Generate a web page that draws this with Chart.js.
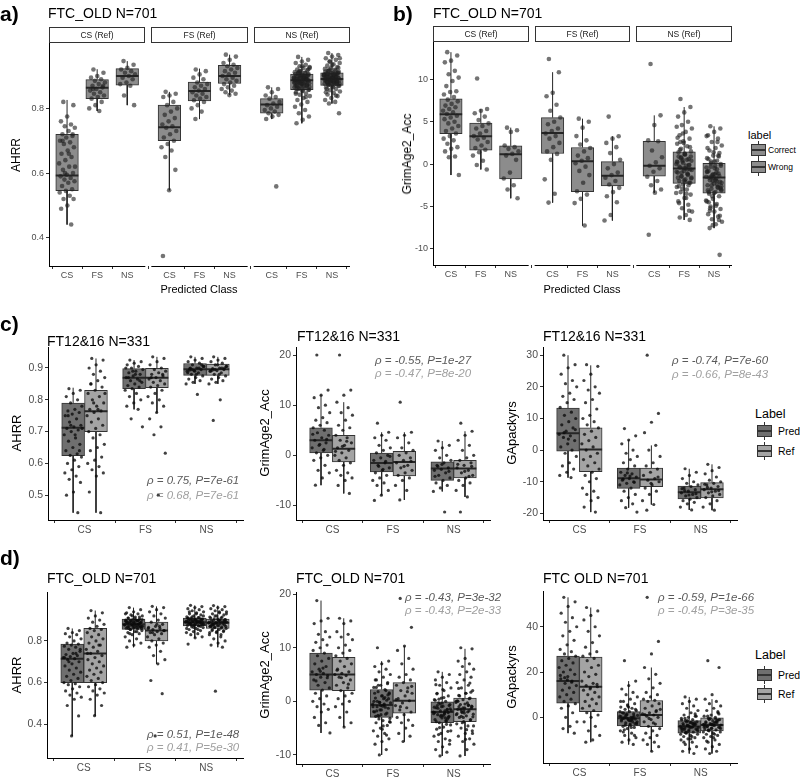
<!DOCTYPE html>
<html>
<head>
<meta charset="utf-8">
<script src="https://cdn.jsdelivr.net/npm/chart.js@4.4.0/dist/chart.umd.min.js"></script>
<style>
  body { margin: 0; width: 800px; height: 778px; position: relative; overflow: hidden; background: #fff;
         font-family: "Liberation Sans", Arial, sans-serif; color: #000; }
  canvas { position: absolute; }
  .t { position: absolute; white-space: nowrap; line-height: 1; }
  .key { position: absolute; width: 15px; height: 12px; }
  .key .w { position: absolute; left: 7px; top: -3px; width: 1px; height: 18px; background: #333; }
  .key .b { position: absolute; left: 0; top: 0; width: 13px; height: 10px; border: 1px solid #333; }
  .key .m { position: absolute; left: 0; top: 5px; width: 15px; height: 2px; background: #333; }
</style>
</head>
<body>
<script>
// ---------------- data ----------------
const classes = ['CS', 'FS', 'NS'];
const refStrips = ['CS (Ref)', 'FS (Ref)', 'NS (Ref)'];

// a) AHRR, FTC_OLD: facet = reference class, box = predicted class. [min, q1, median, q3, max]
const aBoxes = [
  [0.441, 0.546, 0.593, 0.720, 0.826], [0.792, 0.830, 0.864, 0.889, 0.921], [0.810, 0.872, 0.900, 0.923, 0.946],
  [0.547, 0.700, 0.742, 0.810, 0.851], [0.767, 0.823, 0.854, 0.881, 0.923], [0.841, 0.877, 0.900, 0.933, 0.966],
  [0.767, 0.785, 0.812, 0.830, 0.865], [0.754, 0.858, 0.887, 0.906, 0.959], [0.815, 0.871, 0.891, 0.910, 0.971]
];
const aPoints = [
  [0.82,0.81,0.775,0.76,0.75,0.745,0.74,0.73,0.72,0.715,0.71,0.70,0.695,0.69,0.68,0.67,0.66,0.65,0.64,0.63,0.62,0.61,0.60,0.595,0.59,0.585,0.58,0.575,0.57,0.56,0.55,0.545,0.54,0.53,0.52,0.52,0.50,0.49,0.441,0.60,0.62,0.66,0.70,0.72],
  [0.92,0.91,0.90,0.895,0.89,0.885,0.88,0.875,0.87,0.865,0.86,0.855,0.85,0.845,0.84,0.835,0.83,0.82,0.81,0.80,0.792,0.86,0.87],
  [0.946,0.935,0.925,0.92,0.915,0.91,0.905,0.90,0.895,0.89,0.88,0.875,0.87,0.84,0.81],
  [0.851,0.845,0.84,0.835,0.82,0.81,0.80,0.79,0.78,0.77,0.76,0.75,0.745,0.74,0.73,0.72,0.71,0.70,0.69,0.68,0.67,0.65,0.61,0.547,0.344],
  [0.92,0.915,0.905,0.895,0.89,0.88,0.875,0.87,0.865,0.86,0.855,0.85,0.845,0.84,0.835,0.83,0.825,0.82,0.81,0.80,0.79,0.767],
  [0.966,0.96,0.95,0.94,0.935,0.93,0.925,0.92,0.915,0.91,0.905,0.90,0.895,0.89,0.885,0.88,0.875,0.87,0.865,0.86,0.855,0.85,0.845,0.841],
  [0.865,0.86,0.85,0.84,0.835,0.83,0.82,0.815,0.81,0.805,0.80,0.795,0.79,0.785,0.78,0.775,0.767,0.559],
  [0.959,0.95,0.945,0.94,0.935,0.93,0.928,0.925,0.92,0.918,0.915,0.912,0.91,0.908,0.905,0.903,0.9,0.898,0.896,0.894,0.892,0.89,0.888,0.886,0.884,0.882,0.88,0.878,0.875,0.872,0.87,0.868,0.865,0.862,0.86,0.857,0.854,0.85,0.846,0.842,0.838,0.832,0.826,0.82,0.812,0.805,0.795,0.785,0.775,0.765,0.754,0.89,0.9,0.88,0.895,0.885,0.905,0.875,0.87,0.892,
   0.862,0.866,0.869,0.871,0.874,0.877,0.879,0.881,0.883,0.885,0.887,0.889,0.891,0.893,0.895,0.897,0.899,0.901,0.903,0.906,0.909,0.912,0.858,0.855,0.86,0.87,0.88,0.89,0.9,0.91,0.92,0.93,0.845,0.835,0.915,0.925],
  [0.971,0.965,0.96,0.955,0.95,0.945,0.94,0.936,0.932,0.928,0.925,0.922,0.919,0.916,0.913,0.91,0.908,0.906,0.904,0.902,0.9,0.898,0.896,0.894,0.892,0.89,0.888,0.886,0.884,0.882,0.88,0.878,0.876,0.874,0.872,0.87,0.867,0.864,0.86,0.856,0.852,0.848,0.843,0.838,0.832,0.826,0.82,0.815,0.785,0.895,0.9,0.885,0.89,0.905,0.88,0.875,0.91,0.893,0.887,0.897,
   0.873,0.876,0.879,0.881,0.883,0.885,0.887,0.889,0.891,0.893,0.895,0.897,0.899,0.901,0.903,0.905,0.907,0.909,0.911,0.914,0.917,0.92,0.87,0.865,0.86,0.875,0.885,0.895,0.905,0.915,0.925,0.935,0.85,0.84,0.945,0.955]
];

// b) GrimAge2_Acc, FTC_OLD
const bBoxes = [
  [-1.29, 3.60, 5.87, 7.71, 13.2], [-0.63, 1.64, 3.29, 4.85, 6.50], [-4.03, -1.76, 1.17, 2.15, 4.30],
  [-4.54, 1.25, 3.68, 5.48, 10.84], [-7.24, -3.25, 0.35, 1.96, 5.36], [-6.65, -2.58, -1.37, 0.30, 3.29],
  [-3.37, -1.41, -0.20, 2.70, 5.75], [-6.58, -2.27, -0.51, 1.45, 6.73], [-7.55, -3.44, -1.57, 0.10, 4.46]
];
const bPoints = [
  [13.2,12.8,12.2,12.0,11.0,10.6,10.2,9.8,9.2,8.6,8.5,8.2,7.9,7.6,7.4,7.1,6.9,6.7,6.5,6.3,6.1,5.9,5.7,5.5,5.3,5.0,4.8,4.5,4.2,3.9,3.6,3.3,3.0,2.8,2.4,2.0,1.8,1.5,0.9,0.8,-1.29],
  [10.1,6.5,6.3,6.0,5.6,5.2,4.8,4.5,4.2,3.9,3.6,3.3,3.1,2.9,2.6,2.2,1.9,1.7,1.4,1.0,0.4,-0.1,-0.63],
  [4.3,4.0,3.8,2.2,2.0,1.8,1.5,1.2,1.0,0.5,-1.0,-1.7,-2.5,-3.0,-4.03],
  [12.4,10.84,8.4,8.0,7.0,6.3,5.5,5.0,4.7,4.2,3.9,3.6,3.3,3.0,2.5,2.0,1.5,1.2,0.5,-1.8,-3.5,-4.54],
  [5.36,5.0,4.3,3.3,2.8,2.3,1.9,1.5,1.0,0.7,0.4,0.1,-0.3,-0.8,-1.3,-2.2,-3.2,-3.6,-4.1,-4.6,-7.24],
  [5.6,3.29,3.0,2.5,2.0,1.3,0.5,0.0,-0.5,-1.0,-1.3,-1.6,-2.0,-2.4,-2.8,-3.3,-3.8,-4.5,-6.0,-6.65],
  [11.8,5.75,4.6,2.8,2.7,1.6,0.8,0.2,-0.2,-0.5,-0.9,-1.5,-2.0,-2.5,-3.0,-3.37,-8.34],
  [7.67,6.73,6.1,5.6,5.0,4.6,4.2,3.8,3.4,3.0,2.7,2.4,2.1,1.8,1.5,1.2,0.9,0.6,0.3,0.0,-0.2,-0.4,-0.6,-0.8,-1.0,-1.2,-1.4,-1.6,-1.8,-2.0,-2.2,-2.4,-2.7,-3.0,-3.3,-3.6,-4.0,-4.4,-4.8,-5.2,-5.6,-6.0,-6.3,-6.58,-0.5,0.2,-1.1,0.8,-1.7,1.1,-2.6,-0.1,0.5,-0.9,-3.5,2.6,
   -2.2,-1.9,-1.6,-1.3,-1.0,-0.7,-0.5,-0.3,-0.1,0.1,0.3,0.5,0.7,0.9,1.2,1.4,-2.5,-2.9,-3.4,-4.0,1.7,2.0,2.5,3.1,-0.6,-1.5,0.4,-2.1,-4.6,-5.5,3.6,4.4],
  [4.46,4.2,3.8,3.4,3.0,2.6,2.2,1.9,1.6,1.3,1.0,0.7,0.4,0.1,-0.2,-0.5,-0.8,-1.1,-1.3,-1.5,-1.7,-1.9,-2.1,-2.3,-2.5,-2.7,-2.9,-3.1,-3.3,-3.5,-3.8,-4.1,-4.4,-4.7,-5.0,-5.3,-5.6,-5.9,-6.2,-6.5,-6.8,-7.1,-7.55,-10.7,-1.6,-0.9,-2.4,0.3,-3.0,-1.2,-4.5,0.9,-2.0,-0.4,-1.0,-5.2,-2.8,
   -3.4,-3.1,-2.8,-2.5,-2.2,-1.9,-1.6,-1.4,-1.2,-0.9,-0.6,-0.3,0,0.3,0.6,1.0,-3.8,-4.3,-4.9,-5.5,-6.1,1.4,1.9,2.6,-1.5,-2.6,-0.2,-3.3,-6.6,-7.2,3.3,-2.0]
];

// c) FT12&16 N=331, boxes per class: Pred, Ref
const c1Boxes = [
  [0.445, 0.624, 0.712, 0.790, 0.838], [0.445, 0.700, 0.764, 0.830, 0.930],
  [0.770, 0.835, 0.869, 0.898, 0.925], [0.760, 0.838, 0.869, 0.899, 0.935],
  [0.850, 0.877, 0.896, 0.914, 0.935], [0.850, 0.877, 0.896, 0.912, 0.935]
];
const c1Points = [
  [0.835,0.83,0.82,0.81,0.80,0.79,0.78,0.77,0.765,0.76,0.755,0.75,0.74,0.73,0.72,0.715,0.71,0.705,0.70,0.69,0.68,0.67,0.66,0.65,0.64,0.63,0.625,0.62,0.61,0.60,0.59,0.58,0.57,0.56,0.55,0.54,0.51,0.50,0.445,0.72,0.71,0.69,0.75,0.64],
  [0.93,0.925,0.91,0.90,0.89,0.88,0.87,0.86,0.85,0.84,0.83,0.82,0.81,0.80,0.79,0.78,0.77,0.765,0.76,0.75,0.74,0.73,0.72,0.71,0.70,0.69,0.68,0.66,0.65,0.64,0.62,0.61,0.60,0.59,0.58,0.57,0.56,0.51,0.445,0.79,0.82,0.77,0.85],
  [0.925,0.92,0.915,0.91,0.905,0.90,0.895,0.89,0.885,0.88,0.875,0.87,0.865,0.86,0.855,0.85,0.845,0.84,0.835,0.83,0.82,0.81,0.80,0.79,0.78,0.77,0.74,0.715,0.88,0.87,0.86,0.89,0.9],
  [0.935,0.93,0.92,0.91,0.90,0.895,0.89,0.885,0.88,0.875,0.87,0.865,0.86,0.855,0.85,0.845,0.84,0.83,0.82,0.81,0.80,0.79,0.78,0.76,0.74,0.715,0.69,0.632,0.50,0.87,0.88],
  [0.935,0.93,0.925,0.92,0.915,0.91,0.905,0.90,0.898,0.895,0.892,0.89,0.885,0.88,0.875,0.87,0.865,0.86,0.855,0.85,0.817,0.90,0.91,0.89,0.885,0.9,0.895,0.905,0.88,0.893],
  [0.935,0.93,0.925,0.92,0.915,0.91,0.905,0.90,0.898,0.895,0.892,0.89,0.885,0.88,0.875,0.87,0.865,0.86,0.855,0.85,0.80,0.735,0.90,0.91,0.89,0.9,0.895,0.905,0.88,0.893]
];
const c2Boxes = [
  [-5.96, 0.46, 2.98, 5.50, 12.05], [-7.60, -1.32, 1.32, 3.97, 10.6],
  [-7.95, -3.30, -1.52, 0.46, 4.60], [-8.90, -4.10, -1.32, 0.80, 4.60],
  [-7.20, -5.00, -2.65, -1.32, 2.85], [-8.30, -4.50, -2.65, -1.00, 4.80]
];
const c2Points = [
  [20,13,12,11.5,10,9.5,8.5,7.5,7,6.5,6,5.5,5,4.5,4,3.5,3,2.5,2,1.5,1,0.5,0,-0.5,-1,-2,-3,-3.5,-4.5,-5.96,3.2,2.2,4.2,1.2],
  [20,13,12,10.6,9.5,8.5,8,7,6,5.5,5,4,3.5,3,2.5,2,1.5,1,0.5,0,-0.5,-1,-1.5,-2,-3,-3.5,-4,-4.5,-5,-6,-7.6,1.8,0.8,2.8],
  [6.4,4.6,4,3.5,3,2,1.5,1,0.5,0,-0.5,-1,-1.5,-2,-2.5,-3,-3.5,-4,-4.5,-5,-5.5,-6,-7,-7.95,-9,-1.2,-2.2,-0.2,-2.8],
  [10.6,4.6,4,3.5,2.5,1.5,1,0.5,0,-0.5,-1,-1.5,-2,-2.5,-3,-3.5,-4,-4.5,-5,-6,-7,-8.9,-1.2,-2.2],
  [2.85,2,1.5,1,0,-0.5,-1,-1.5,-2,-2.5,-2.8,-3,-3.5,-4,-4.5,-5,-5.5,-6,-6.5,-7.2,-11.3,-2.2,-3.2,-1.8,-4.2],
  [6.4,4.8,4,3,2,1,0,-0.5,-1,-1.5,-2,-2.5,-3,-3.5,-4,-4.5,-5,-5.5,-6,-7,-8.3,-11.3,-2.2,-3.2,-1.8,-4.2]
];
const c3Boxes = [
  [-8.7, -0.3, 5.3, 13.3, 30.0], [-19.6, -6.8, 0.2, 7.05, 26.8],
  [-18.2, -12.1, -8.9, -5.7, 3.2], [-17.2, -11.6, -9.3, -5.7, 1.5],
  [-18.9, -15.4, -13.3, -11.4, -5.9], [-19.0, -15.1, -12.4, -10.3, -4.5]
];
const c3Points = [
  [30,27,26,24,22,21,20,18,17,16,15,13.5,12,11,10,9,8,7,6,5,4.5,4,3,2,1,0,-1,-2,-4,-5,-6,-7,-8,-8.7,5.5,6.5,3.5],
  [27,26.5,24,22,20,19,18,16,15,13,11,10,9,8,7,6,5,4,3,2,1,0,-1,-2,-3,-4,-5,-6,-7,-8,-9,-10,-12,-13,-14,-15,-16,-18,-19.6],
  [6.8,4.5,3.2,2,0,-1,-2,-3,-4,-5,-6,-7,-7.5,-8,-8.5,-9,-9.5,-10,-10.5,-11,-12,-13,-14,-15,-16,-17,-18.2,-19.6,-8.2,-9.2,-10.2,-7.2],
  [30,11.6,8.8,5.5,1.5,0,-2,-4,-5,-6,-7,-8,-9,-9.5,-10,-11,-12,-13,-14,-16,-17.2,-19,-8.5,-10.5],
  [-5.9,-7,-8,-9,-10,-10.5,-11,-11.5,-12,-12.5,-13,-13.5,-14,-14.5,-15,-15.5,-16,-16.5,-17,-18,-18.9,-12.8,-13.8,-14.2,-12.2],
  [-4.5,-5.5,-6.5,-7.5,-8.5,-9.5,-10,-10.5,-11,-11.5,-12,-12.5,-13,-13.5,-14,-14.5,-15,-16,-17,-18,-19,-11.8,-12.8,-13.2,-10.8]
];

// d) FTC_OLD N=701, boxes per class: Pred, Ref
const d1Boxes = [
  [0.344, 0.600, 0.715, 0.785, 0.860], [0.441, 0.600, 0.740, 0.860, 0.946],
  [0.770, 0.855, 0.880, 0.905, 0.960], [0.690, 0.800, 0.850, 0.890, 0.966],
  [0.815, 0.872, 0.890, 0.910, 0.971], [0.770, 0.860, 0.887, 0.905, 0.970]
];
const d1Points = [
  [0.86,0.85,0.84,0.835,0.83,0.82,0.81,0.80,0.79,0.785,0.78,0.775,0.77,0.76,0.75,0.74,0.735,0.73,0.725,0.72,0.715,0.71,0.70,0.69,0.68,0.67,0.66,0.65,0.64,0.63,0.62,0.61,0.60,0.595,0.59,0.58,0.57,0.56,0.55,0.54,0.53,0.52,0.49,0.44,0.344,0.72,0.74,0.7,0.76],
  [0.946,0.935,0.92,0.91,0.90,0.89,0.88,0.87,0.86,0.855,0.85,0.84,0.83,0.82,0.81,0.80,0.79,0.78,0.77,0.76,0.75,0.74,0.73,0.72,0.71,0.70,0.69,0.68,0.67,0.66,0.65,0.64,0.63,0.62,0.61,0.60,0.59,0.58,0.57,0.56,0.55,0.54,0.52,0.49,0.441,0.74,0.78],
  [0.96,0.95,0.94,0.935,0.93,0.925,0.92,0.915,0.91,0.905,0.902,0.9,0.897,0.894,0.891,0.888,0.885,0.882,0.879,0.876,0.873,0.87,0.867,0.864,0.861,0.858,0.855,0.85,0.845,0.84,0.835,0.83,0.82,0.81,0.80,0.79,0.78,0.77,0.88,0.89,0.87,0.9,0.86,0.885,0.875,0.895,0.865,
   0.856,0.86,0.864,0.868,0.872,0.876,0.879,0.882,0.885,0.888,0.891,0.894,0.897,0.9,0.903,0.906,0.91,0.915,0.92,0.93,0.845,0.835,0.87,0.88,0.89,0.9],
  [0.966,0.96,0.95,0.94,0.93,0.92,0.91,0.90,0.89,0.88,0.87,0.865,0.86,0.855,0.85,0.845,0.84,0.835,0.83,0.82,0.81,0.80,0.79,0.78,0.77,0.75,0.73,0.71,0.69,0.61,0.547,0.344,0.86,0.87,0.84,0.85,0.88],
  [0.971,0.965,0.96,0.955,0.95,0.945,0.94,0.935,0.93,0.925,0.92,0.916,0.912,0.908,0.905,0.902,0.899,0.896,0.893,0.89,0.887,0.884,0.881,0.878,0.875,0.872,0.868,0.864,0.86,0.855,0.85,0.845,0.84,0.835,0.83,0.82,0.815,0.785,0.89,0.9,0.88,0.895,0.885,0.905,0.875,0.892,
   0.873,0.876,0.879,0.882,0.885,0.888,0.891,0.894,0.897,0.9,0.903,0.906,0.909,0.912,0.916,0.92,0.93,0.94,0.87,0.865,0.86,0.855,0.88,0.89,0.9,0.91],
  [0.97,0.965,0.96,0.955,0.95,0.945,0.94,0.935,0.93,0.925,0.92,0.915,0.91,0.906,0.902,0.898,0.895,0.892,0.889,0.886,0.883,0.88,0.877,0.874,0.871,0.868,0.864,0.86,0.855,0.85,0.845,0.84,0.83,0.82,0.81,0.80,0.79,0.78,0.77,0.559,0.89,0.9,0.88,0.895,0.885,0.87,
   0.862,0.866,0.87,0.874,0.878,0.882,0.886,0.89,0.894,0.898,0.902,0.906,0.91,0.915,0.92,0.93,0.94,0.855,0.85,0.845,0.84,0.83,0.88,0.89,0.9,0.87]
];
const d2Boxes = [
  [-5.9, 2.1, 5.0, 9.0, 18.8], [-4.8, 2.0, 5.0, 8.2, 15.5],
  [-10.0, -3.0, -0.7, 2.2, 7.5], [-7.5, -2.2, 0.1, 3.5, 10.3],
  [-10.2, -4.0, -2.0, 0.0, 5.5], [-10.2, -3.8, -1.5, 0.6, 9.8]
];
const d2Points = [
  [18.8,15.5,15,14.5,13,12.5,12,11.5,11,10.5,10,9.5,9,8.5,8,7.5,7,6.5,6,5.5,5.2,5,4.8,4.5,4,3.5,3,2.5,2.1,1.5,1,0.5,0,-0.5,-1,-1.5,-2,-3,-4,-4.5,-5.9,6.2,3.8,4.4,5.6],
  [15.5,15,14.5,13,12.5,12,11.5,10.5,10,9.5,9,8.5,8,7.5,7,6.5,6,5.5,5.2,5,4.8,4.5,4,3.5,3,2.5,2,1.5,1,0.5,0,-0.5,-1,-2,-3,-4,-4.8,5.8,3.2,4.4],
  [10,7.5,7,6.5,6,5.5,5,4.5,4,3.5,3,2.6,2.2,1.8,1.4,1,0.6,0.2,-0.2,-0.5,-0.7,-1,-1.3,-1.6,-2,-2.4,-2.8,-3.2,-3.6,-4,-4.5,-5,-5.5,-6,-6.5,-7,-7.5,-8,-9,-10,-0.3,0.5,-1.8,1.2,-2.5,0,-1.1,3,-3.8,-0.9,
   -2.8,-2.2,-1.6,-1.0,-0.5,0,0.5,1,1.5,2,-3.3,-3.9,-4.6,2.6,3.3,-0.8,-1.9,0.7,-2.6,1.6,-5.2,4,-6.3,-0.2],
  [19.2,13.8,10.3,9.5,8,7,6,5,4.5,4,3.5,3,2.5,2,1.5,1,0.5,0.1,-0.3,-0.8,-1.2,-1.6,-2,-2.5,-3,-3.5,-4,-4.5,-5,-6,-6.5,-7.5,0.3,1.8,-1,2.8],
  [5.5,5,4.5,4,3.5,3,2.5,2,1.5,1,0.6,0.3,0,-0.3,-0.6,-0.9,-1.2,-1.5,-1.8,-2,-2.2,-2.5,-2.8,-3.1,-3.4,-3.7,-4,-4.4,-4.8,-5.2,-5.6,-6,-6.5,-7,-7.5,-8,-8.5,-9,-9.5,-10.2,-1.7,-2.4,-0.8,-3,-1,-2.1,-3.6,0.4,-1.4,-2.7,
   -3.8,-3.3,-2.8,-2.3,-1.8,-1.3,-0.8,-0.3,0.2,-4.3,-4.9,-5.5,0.7,1.4,-2.1,-2.6,-1.1,-3.1,-6.2,-7.3,2.2,3.1,-1.6,-0.5],
  [10,9.8,8,7.5,7,6.5,6,5.5,5,4.5,4,3.5,3,2.5,2,1.5,1.1,0.6,0.3,0,-0.3,-0.6,-0.9,-1.2,-1.5,-1.8,-2.1,-2.4,-2.7,-3,-3.4,-3.8,-4.2,-4.6,-5,-5.5,-6,-6.5,-7,-7.5,-8,-9,-10.2,-1.3,-2.2,0.1,-0.7,-1.9,-2.9,1.5,-1,
   -3.5,-3,-2.5,-2,-1.5,-1,-0.5,0,0.5,-4,-4.6,-5.3,1,1.7,-1.8,-2.3,-0.8,-2.8,-6,-7.1,2.4,3.4,-1.2,-0.2]
];
const d3Boxes = [
  [-7, 6.2, 16.0, 27.0, 53.0], [-11, 2.5, 13.5, 26.6, 48.5],
  [-12, -3.8, -0.4, 2.5, 16.0], [-15, -4.1, 1.0, 7.4, 22.0],
  [-16, -7.0, -4.1, -1.5, 9.0], [-16, -6.0, -3.4, 0.0, 8.0]
];
const d3Points = [
  [53,51,49,46,44,42,40,38,36,34,32,30,29,28,27,26,25,24,23,22,21,20,19,18,17,16,15,14,13,12,11,10,9,8,7,6,5,4,2,0,-2,-4,-5,-7,16.5,18.5,15.5,17.5],
  [48.5,47,45,43,40,38,36,33,31,29,28,27,26,25,23,22,20,19,18,16,15,14,13.5,13,12,11,10,9,8,7,6,5,4,3,2,1,0,-2,-4,-6,-8,-10,-11,14.5,12.5],
  [25,16,14,12.5,11,10,9,8,7,6,5,4.5,4,3.5,3,2.5,2,1.5,1,0.5,0,-0.4,-0.8,-1.2,-1.6,-2,-2.5,-3,-3.5,-4,-4.5,-5,-6,-7,-8,-9,-10,-11,-12,-0.2,0.8,-1.5,1.8,-2.8,-0.6,0.3,-1,
   -3.5,-2.5,-1.5,-0.5,0.5,1.5,2.5,-4.5,-5.5,3.5,4.5,-1,0,1,-2,-3,-6.5,-8,5.5,7,-0.7,0.2],
  [53,33.5,28,22,19,17,15,13,11,10,9,8,7.5,7,6,5,4,3,2,1.5,1,0.5,0,-1,-2,-3,-4,-5,-6,-7,-8,-9,-10,-11,-12,-13,-15,1.2,2.5,-0.5,3.5,-2.5],
  [9,8,7,6,5,4,3,2,1,0.5,0,-0.5,-1,-1.5,-2,-2.4,-2.8,-3.2,-3.6,-4,-4.4,-4.8,-5.2,-5.6,-6,-6.5,-7,-7.5,-8,-8.5,-9,-9.5,-10,-11,-12,-13,-14,-15,-16,-3.8,-4.6,-2.2,-5.4,-3.1,-6.2,-1.2,-4.2,
   -6.5,-5.5,-4.5,-3.5,-2.5,-1.5,-7.5,-8.5,-0.5,0.5,-4,-5,-3,-2,-6,-9.5,-11,1.5,-3.7,-4.9,-2.8,-6.8],
  [25,22,10,8,7,6,5,4,3,2,1,0.5,0,-0.5,-1,-1.5,-2,-2.4,-2.8,-3.2,-3.6,-4,-4.4,-4.8,-5.2,-5.6,-6,-6.5,-7,-7.5,-8,-8.5,-9,-10,-11,-12,-13,-14,-15,-16,-3.4,-2.6,-4.2,-1.2,-5,-3,-0.8,
   -5.5,-4.5,-3.5,-2.5,-1.5,-0.5,-6.5,-7.5,0.5,1.5,-3,-4,-2,-1,-5,-9,-10.5,2.5,-3.1,-4.3,-2.2,-5.8]
];

const rhoText = {
  c1: ['ρ = 0.75, P=7e-61', 'ρ = 0.68, P=7e-61'],
  c2: ['ρ = -0.55, P=1e-27', 'ρ = -0.47, P=8e-20'],
  c3: ['ρ = -0.74, P=7e-60', 'ρ = -0.66, P=8e-43'],
  d1: ['ρ = 0.51, P=1e-48', 'ρ = 0.41, P=5e-30'],
  d2: ['ρ = -0.43, P=3e-32', 'ρ = -0.43, P=2e-33'],
  d3: ['ρ = -0.59, P=1e-66', 'ρ = -0.45, P=3e-35']
};

// ---------------- drawing ----------------
Chart.defaults.font.family = '"Liberation Sans", Arial, sans-serif';

const facetDeco = {
  id: 'facetDeco',
  afterDraw(chart, args, o) {
    const ctx = chart.ctx, xs = chart.scales.x, area = chart.chartArea;
    ctx.save();
    ctx.strokeStyle = '#000';
    ctx.lineWidth = 1;
    (o.segments || []).forEach(seg => {
      ctx.beginPath();
      ctx.moveTo(xs.getPixelForValue(seg[0]), area.bottom + 0.5);
      ctx.lineTo(xs.getPixelForValue(seg[1]), area.bottom + 0.5);
      ctx.stroke();
    });
    (o.strips || []).forEach(s => {
      const x0 = Math.round(xs.getPixelForValue(s.from)) + 0.5;
      const x1 = Math.round(xs.getPixelForValue(s.to)) - 0.5;
      ctx.fillStyle = '#fff';
      ctx.fillRect(x0, area.top - 16, x1 - x0, 15);
      ctx.strokeStyle = '#333';
      ctx.strokeRect(x0, area.top - 15.5, x1 - x0, 15);
      ctx.fillStyle = '#1a1a1a';
      ctx.font = '8.5px "Liberation Sans", Arial, sans-serif';
      ctx.textAlign = 'center';
      ctx.textBaseline = 'middle';
      ctx.fillText(s.text, (x0 + x1) / 2, area.top - 7.5);
    });
    ctx.restore();
  }
};

function jitter(i, half) {
  return (((i * 0.618034 + 0.27) % 1) - 0.5) * 2 * half;
}

function panel(p) {
  const padTop = 20, padRight = 6, yW = 40, xH = 24;
  const cv = document.createElement('canvas');
  const w = p.rect.r - p.rect.l + yW + padRight;
  const h = p.rect.b - p.rect.t + padTop + xH;
  cv.width = w; cv.height = h;
  cv.style.left = (p.rect.l - yW) + 'px';
  cv.style.top = (p.rect.t - padTop) + 'px';
  cv.style.width = w + 'px'; cv.style.height = h + 'px';
  document.body.appendChild(cv);

  const facet = p.mode === 'facet';
  const xMin = 0.4, xMax = facet ? 10.4 : 3.6;
  const pxUnit = (p.rect.r - p.rect.l) / (xMax - xMin);
  const boxUnits = facet ? 0.75 : 0.375;
  const pos = i => facet ? Math.floor(i / 3) * 3.4 + (i % 3) + 1
                         : Math.floor(i / 2) + 1 + (i % 2 ? 0.1875 : -0.1875);
  const fill = i => facet ? '#8c8c8c' : (i % 2 ? '#a4a4a4' : '#6f6f6f');

  const boxData = [], medData = [], whiskData = [], pts = [];
  p.boxes.forEach((s, i) => {
    const x = pos(i), hw = boxUnits / 2;
    boxData.push({ x: x, y: [s[1], s[3]] });
    medData.push({ x: x - hw, y: s[2] }, { x: x + hw, y: s[2] }, { x: x, y: null });
    whiskData.push({ x: x, y: s[3] }, { x: x, y: s[4] }, { x: x, y: null },
                   { x: x, y: s[1] }, { x: x, y: s[0] }, { x: x, y: null });
  });
  p.points.forEach((arr, i) => {
    arr.forEach((v, k) => pts.push({ x: pos(i) + jitter(k, facet ? 0.27 : 0.15), y: v }));
  });

  const xTicks = [], xLabels = [];
  p.boxes.forEach((s, i) => {
    if (facet) { xTicks.push(pos(i)); xLabels.push(classes[i % 3]); }
    else if (i % 2 === 0) { xTicks.push(Math.floor(i / 2) + 1); xLabels.push(classes[i / 2]); }
  });

  new Chart(cv, {
    type: 'bar',
    data: {
      datasets: [
        { type: 'scatter', data: pts, order: 0, pointRadius: p.ptR, pointHoverRadius: p.ptR,
          backgroundColor: p.ptColor, borderWidth: 0 },
        { type: 'line', data: medData, order: 1, borderColor: '#262626', borderWidth: 2,
          pointRadius: 0, spanGaps: false, fill: false },
        { type: 'bar', data: boxData, order: 2, backgroundColor: p.boxes.map((s, i) => fill(i)),
          borderColor: '#333', borderWidth: 1, borderSkipped: false,
          barThickness: boxUnits * pxUnit },
        { type: 'line', data: whiskData, order: 3, borderColor: '#262626', borderWidth: 1,
          pointRadius: 0, spanGaps: false, fill: false }
      ]
    },
    options: {
      responsive: false, animation: false, devicePixelRatio: 1, events: [],
      layout: { padding: { top: padTop, right: padRight, left: 0, bottom: 0 } },
      plugins: {
        legend: { display: false }, tooltip: { enabled: false },
        facetDeco: {
          segments: facet ? [[0.4, 3.6], [3.8, 7.0], [7.2, 10.4]] : [],
          strips: facet ? refStrips.map((t, k) => ({ from: k * 3.4 + 0.4, to: k * 3.4 + 3.6, text: t })) : []
        }
      },
      scales: {
        x: {
          type: 'linear', min: xMin, max: xMax, offset: false, bounds: 'data',
          afterBuildTicks: s => { s.ticks = xTicks.map(v => ({ value: v })); },
          afterFit: s => { s.height = xH; },
          ticks: { callback: (v, i) => xLabels[i], autoSkip: false, maxRotation: 0,
                   font: { size: p.xFont }, color: '#4d4d4d', padding: 1 },
          grid: { display: true, drawOnChartArea: false, drawTicks: true, tickLength: 3, color: '#333' },
          border: { display: !facet, color: '#000', width: 1 }
        },
        y: {
          type: 'linear', min: p.yMin, max: p.yMax, bounds: 'data',
          afterBuildTicks: s => { s.ticks = p.yTicks.map(v => ({ value: v })); },
          afterFit: s => { s.width = yW; },
          ticks: { callback: v => String(v), font: { size: p.yFont }, color: '#4d4d4d', padding: 2 },
          grid: { display: true, drawOnChartArea: false, drawTicks: true, tickLength: 3, color: '#333' },
          border: { display: true, color: '#000', width: 1 }
        }
      }
    },
    plugins: [facetDeco]
  });
}

const facetPts = 'rgba(30,30,30,0.62)', dodgePts = 'rgba(12,12,12,0.78)';
panel({ rect: { l: 48.5, t: 43, r: 350, b: 266 }, mode: 'facet', boxes: aBoxes, points: aPoints,
        yMin: 0.313, yMax: 1.002, yTicks: [0.4, 0.6, 0.8], xFont: 9, yFont: 9, ptR: 2.3, ptColor: facetPts });
panel({ rect: { l: 433, t: 42, r: 732, b: 265 }, mode: 'facet', boxes: bBoxes, points: bPoints,
        yMin: -11.9, yMax: 14.4, yTicks: [-10, -5, 0, 5, 10], xFont: 9, yFont: 9, ptR: 2.3, ptColor: facetPts });
panel({ rect: { l: 48, t: 347, r: 243, b: 520 }, mode: 'dodge', boxes: c1Boxes, points: c1Points,
        yMin: 0.422, yMax: 0.966, yTicks: [0.5, 0.6, 0.7, 0.8, 0.9], xFont: 10, yFont: 10.5, ptR: 1.6, ptColor: dodgePts });
panel({ rect: { l: 296, t: 347, r: 490, b: 520 }, mode: 'dodge', boxes: c2Boxes, points: c2Points,
        yMin: -12.9, yMax: 21.6, yTicks: [-10, 0, 10, 20], xFont: 10, yFont: 10.5, ptR: 1.6, ptColor: dodgePts });
panel({ rect: { l: 543, t: 347, r: 737, b: 520 }, mode: 'dodge', boxes: c3Boxes, points: c3Points,
        yMin: -22.1, yMax: 32.6, yTicks: [-20, -10, 0, 10, 20, 30], xFont: 10, yFont: 10.5, ptR: 1.6, ptColor: dodgePts });
panel({ rect: { l: 47, t: 592, r: 243, b: 758 }, mode: 'dodge', boxes: d1Boxes, points: d1Points,
        yMin: 0.238, yMax: 1.035, yTicks: [0.4, 0.6, 0.8], xFont: 10, yFont: 10.5, ptR: 1.6, ptColor: dodgePts });
panel({ rect: { l: 296, t: 592, r: 490, b: 764 }, mode: 'dodge', boxes: d2Boxes, points: d2Points,
        yMin: -11.7, yMax: 20.4, yTicks: [-10, 0, 10, 20], xFont: 10, yFont: 10.5, ptR: 1.6, ptColor: dodgePts });
panel({ rect: { l: 543, t: 591, r: 737, b: 763 }, mode: 'dodge', boxes: d3Boxes, points: d3Points,
        yMin: -20.2, yMax: 55.8, yTicks: [0, 20, 40], xFont: 10, yFont: 10.5, ptR: 1.6, ptColor: dodgePts });

// ---------------- text ----------------
function text(str, x, cy, size, css, rotate) {
  const d = document.createElement('div');
  d.className = 't';
  d.textContent = str;
  d.style.fontSize = size + 'px';
  if (rotate) {
    d.style.left = x + 'px'; d.style.top = cy + 'px';
    d.style.transform = 'translate(-50%,-50%) rotate(-90deg)';
  } else {
    d.style.left = x + 'px';
    d.style.top = (cy - 0.49 * size) + 'px';
  }
  Object.assign(d.style, css || {});
  document.body.appendChild(d);
  return d;
}
function centered(str, cx, cy, size, css) {
  const d = text(str, cx, cy, size, css);
  d.style.transform = 'translateX(-50%)';
}
function key(x, cy, color) {
  const k = document.createElement('div');
  k.className = 'key';
  k.style.left = x + 'px'; k.style.top = (cy - 6) + 'px';
  k.innerHTML = '<div class="w"></div><div class="b" style="background:' + color + '"></div><div class="m"></div>';
  document.body.appendChild(k);
}

const bold = { fontWeight: 'bold' };
text('a)', 0, 13, 21, bold);
text('b)', 393, 13, 21, bold);
text('c)', 0, 323, 21, bold);
text('d)', 0, 557, 21, bold);

text('FTC_OLD N=701', 48, 13, 14);
text('FTC_OLD N=701', 433, 13, 14);
text('FT12&16 N=331', 47, 341, 14);
text('FT12&16 N=331', 297, 336, 14);
text('FT12&16 N=331', 543, 336, 14);
text('FTC_OLD N=701', 47, 578, 14);
text('FTC_OLD N=701', 296, 578, 14);
text('FTC OLD N=701', 543, 578, 14);

text('AHRR', 16, 155, 12, null, true);
text('GrimAge2_Acc', 407, 154, 12, null, true);
text('AHRR', 16, 433, 13, null, true);
text('GrimAge2_Acc', 264, 433, 13, null, true);
text('GApackyrs', 511, 433, 13, null, true);
text('AHRR', 16, 675, 13, null, true);
text('GrimAge2_Acc', 264, 675, 13, null, true);
text('GApackyrs', 511, 677, 13, null, true);

centered('Predicted Class', 199, 289, 11);
centered('Predicted Class', 582, 289, 11);

const rhoPos = { c1: [147, 481, 496], c2: [375, 361, 374], c3: [672, 361, 375],
                 d1: [147, 735, 748], d2: [405, 598, 611], d3: [658, 598, 611] };
Object.keys(rhoText).forEach(k => {
  const pp = rhoPos[k];
  text(rhoText[k][0], pp[0], pp[1], 11.5, { fontStyle: 'italic', color: '#5a5a5a' });
  text(rhoText[k][1], pp[0], pp[2], 11.5, { fontStyle: 'italic', color: '#a0a0a0' });
});

// legends
text('label', 748, 135, 11);
key(751, 150, '#8c8c8c'); text('Correct', 768, 150, 8.5);
key(751, 167, '#8c8c8c'); text('Wrong', 768, 167, 8.5);
text('Label', 755, 414, 12.5);
key(757, 431, '#6f6f6f'); text('Pred', 778, 431, 10.5);
key(757, 451, '#a4a4a4'); text('Ref', 778, 451, 10.5);
text('Label', 755, 655, 12.5);
key(757, 675, '#6f6f6f'); text('Pred', 778, 675, 10.5);
key(757, 694, '#a4a4a4'); text('Ref', 778, 694, 10.5);
</script>
</body>
</html>
